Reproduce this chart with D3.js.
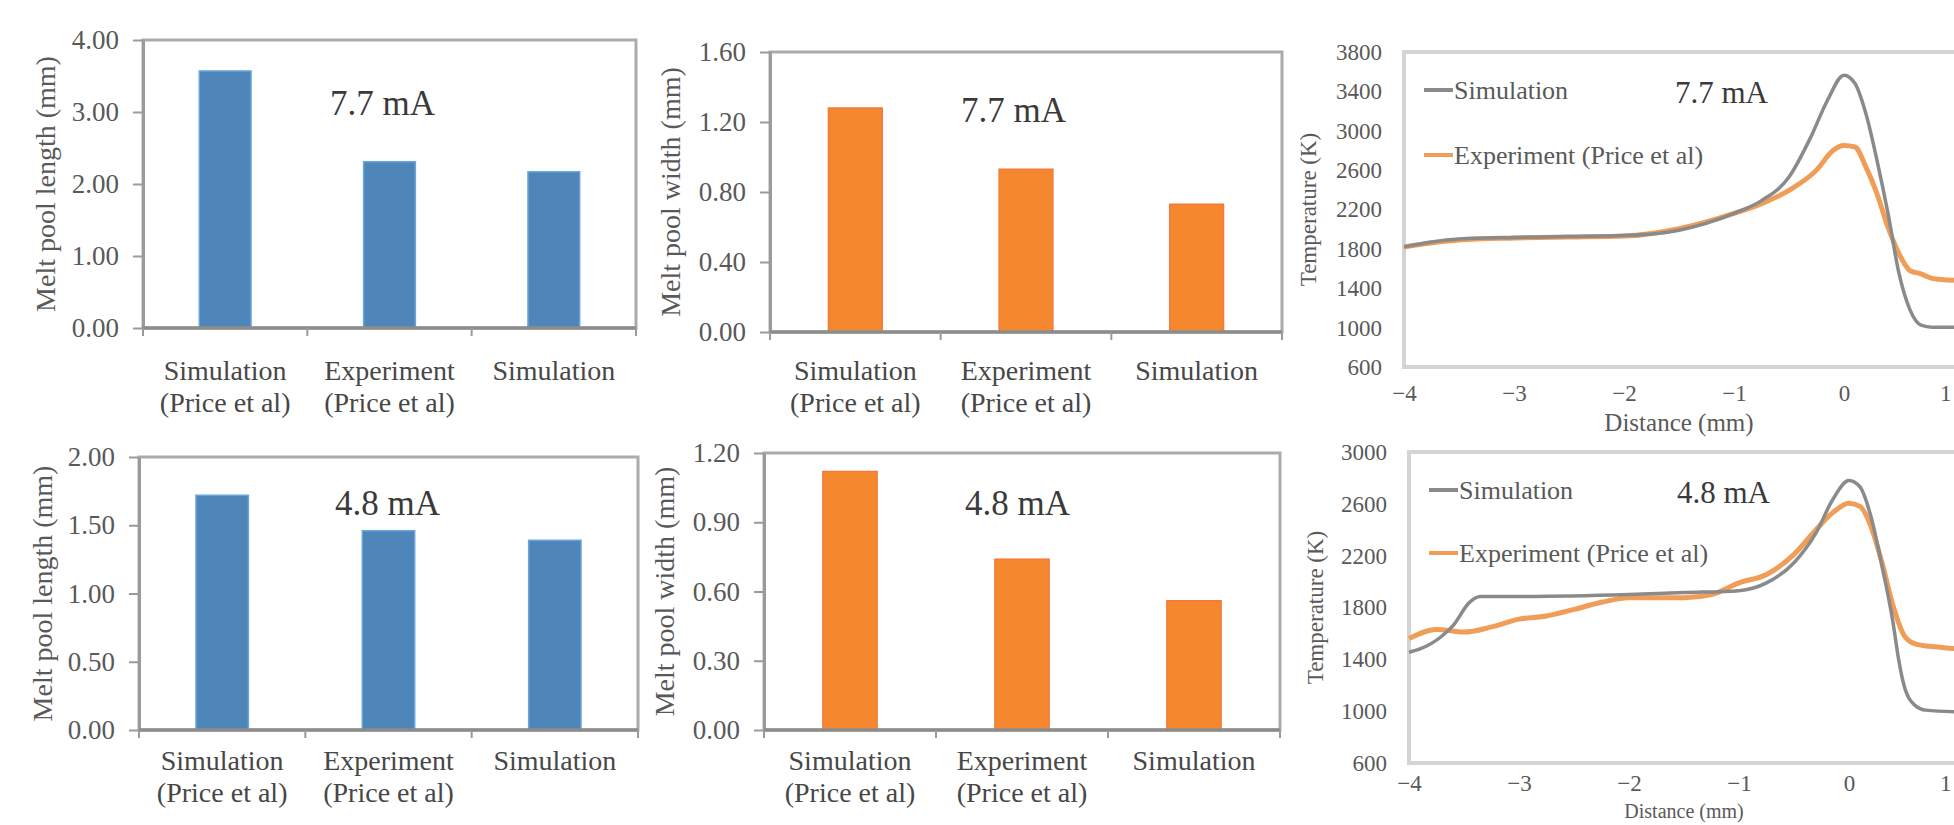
<!DOCTYPE html>
<html>
<head>
<meta charset="utf-8">
<script src="https://cdn.jsdelivr.net/npm/d3@7"></script>
<style>
  html, body { margin: 0; padding: 0; background: #fff; overflow: hidden; }
  svg { display: block; font-family: "Liberation Serif", "Times New Roman", serif; }
</style>
</head>
<body>
<svg id="chart" width="1954" height="825"></svg>
<script>
// bar chart data
var categories = [["Simulation", "(Price et al)"], ["Experiment", "(Price et al)"], ["Simulation"]];
var length77 = [3.57, 2.31, 2.17];
var width77 = [1.28, 0.93, 0.73];
var length48 = [1.72, 1.46, 1.39];
var width48 = [1.12, 0.74, 0.56];
var lengthTicks77 = [0, 1, 2, 3, 4];
var widthTicks77 = [0, 0.4, 0.8, 1.2, 1.6];
var lengthTicks48 = [0, 0.5, 1, 1.5, 2];
var widthTicks48 = [0, 0.3, 0.6, 0.9, 1.2];

// temperature profiles
var distTicks = [-4, -3, -2, -1, 0, 1];
var tempTicks77 = [600, 1000, 1400, 1800, 2200, 2600, 3000, 3400, 3800];
var tempTicks48 = [600, 1000, 1400, 1800, 2200, 2600, 3000];

var sim77Dist = [-4, -3.75, -3.5, -3, -2.5, -2, -1.5, -1, -0.75, -0.5, -0.3, -0.15, 0, 0.1, 0.2, 0.3, 0.4, 0.5, 0.6, 0.7, 0.8, 1];
var sim77Temp = [1820, 1870, 1900, 1915, 1925, 1935, 1990, 2160, 2290, 2530, 2940, 3310, 3565, 3480, 3170, 2700, 2160, 1550, 1180, 1025, 1005, 1005];
var exp77Dist = [-4, -3.5, -3, -2.5, -2, -1.5, -1, -0.75, -0.5, -0.25, -0.1, 0, 0.1, 0.2, 0.3, 0.4, 0.5, 0.6, 0.7, 0.8, 1];
var exp77Temp = [1820, 1890, 1910, 1920, 1930, 2005, 2160, 2260, 2395, 2600, 2800, 2850, 2835, 2630, 2360, 2020, 1750, 1580, 1545, 1500, 1480];

var sim48Dist = [-4, -3.9, -3.7, -3.6, -3.45, -3.35, -3, -2, -1.5, -1, -0.75, -0.5, -0.3, -0.15, 0, 0.1, 0.2, 0.3, 0.4, 0.45, 0.5, 0.6, 0.7, 1];
var sim48Temp = [1455, 1480, 1580, 1660, 1840, 1885, 1885, 1900, 1915, 1930, 1990, 2145, 2375, 2630, 2780, 2730, 2500, 2120, 1685, 1405, 1200, 1045, 1008, 995];
var exp48Dist = [-4, -3.75, -3.5, -3.25, -3, -2.75, -2.5, -2.25, -2, -1.5, -1.25, -1, -0.75, -0.5, -0.3, -0.15, 0, 0.1, 0.2, 0.3, 0.4, 0.5, 0.6, 0.8, 1];
var exp48Temp = [1560, 1630, 1610, 1650, 1710, 1735, 1785, 1840, 1875, 1875, 1900, 1990, 2055, 2210, 2400, 2530, 2605, 2580, 2425, 2145, 1815, 1585, 1520, 1495, 1480];

var W = 1954;
var svg = d3.select("#chart");

function barPanel(opt) {
    var g = svg.append("g");
    var x = d3.scaleBand()
        .domain(d3.range(categories.length))
        .range([opt.left, opt.right])
        .paddingInner(0.685)
        .paddingOuter(0.3425);
    var y = d3.scaleLinear()
        .domain([opt.ticks[0], opt.ticks[opt.ticks.length - 1]])
        .range([opt.bottom, opt.top]);

    // plot frame
    g.append("rect")
        .attr("x", opt.left).attr("y", opt.top)
        .attr("width", opt.right - opt.left).attr("height", opt.bottom - opt.top)
        .attr("fill", "none").attr("stroke", "#ababab").attr("stroke-width", 3);

    g.selectAll(".bar")
        .data(opt.values)
        .enter()
        .append("rect")
        .attr("class", "bar")
        .attr("x", function(d, i) { return x(i); })
        .attr("y", function(d) { return y(d); })
        .attr("width", x.bandwidth())
        .attr("height", function(d) { return y(0) - y(d); })
        .attr("fill", opt.color)
        .attr("stroke", opt.edge)
        .attr("stroke-width", 1.5);

    var yAxis = g.append("g")
        .attr("transform", "translate(" + opt.left + ",0)")
        .call(d3.axisLeft(y).tickValues(opt.ticks).tickFormat(d3.format(".2f")).tickSize(10).tickSizeOuter(0).tickPadding(14));
    yAxis.select(".domain").attr("stroke", "#9a9a9a").attr("stroke-width", 3);
    yAxis.selectAll(".tick line").attr("stroke", "#9a9a9a").attr("stroke-width", 2);
    yAxis.selectAll(".tick text").attr("font-size", 27).attr("fill", "#595959").attr("font-family", "Liberation Serif");

    // category separators on x axis
    var step = x.step();
    var seps = d3.range(categories.length + 1).map(function(i) { return opt.left + i * step; });
    g.append("line")
        .attr("x1", opt.left).attr("x2", opt.right)
        .attr("y1", opt.bottom).attr("y2", opt.bottom)
        .attr("stroke", "#8c8c8c").attr("stroke-width", 3.5);
    g.selectAll(".sep")
        .data(seps)
        .enter()
        .append("line")
        .attr("x1", function(d) { return d; }).attr("x2", function(d) { return d; })
        .attr("y1", opt.bottom).attr("y2", opt.bottom + 8)
        .attr("stroke", "#9a9a9a").attr("stroke-width", 2);

    var labels = g.selectAll(".cat")
        .data(categories)
        .enter()
        .append("text")
        .attr("class", "cat")
        .attr("text-anchor", "middle")
        .attr("font-size", 28)
        .attr("fill", "#474747");
    labels.selectAll("tspan")
        .data(function(d, i) { return d.map(function(s) { return { s: s, i: i }; }); })
        .enter()
        .append("tspan")
        .attr("x", function(d) { return x(d.i) + x.bandwidth() / 2; })
        .attr("y", function(d, j) { return opt.labelY + j * 32; })
        .text(function(d) { return d.s; });

    g.append("text")
        .attr("transform", "translate(" + opt.titleX + "," + (opt.top + opt.bottom) / 2 + ") rotate(-90)")
        .attr("text-anchor", "middle")
        .attr("dy", "0.35em")
        .attr("font-size", 28)
        .attr("fill", "#595959")
        .text(opt.title);

    g.append("text")
        .attr("x", opt.noteX).attr("y", opt.noteY)
        .attr("dy", "0.35em")
        .attr("font-size", 35)
        .attr("fill", "#3a3a3a")
        .text(opt.note);
}

function tempPanel(opt) {
    var g = svg.append("g");
    var x = d3.scaleLinear().domain([-4, 1]).range([opt.left, opt.left + 550]);
    var y = d3.scaleLinear()
        .domain([opt.ticks[0], opt.ticks[opt.ticks.length - 1]])
        .range([opt.bottom, opt.top]);

    g.append("rect")
        .attr("x", opt.left).attr("y", opt.top)
        .attr("width", 560).attr("height", opt.bottom - opt.top)
        .attr("fill", "none").attr("stroke", "#d4d4d4").attr("stroke-width", 4);

    var yAxis = g.append("g")
        .attr("transform", "translate(" + opt.left + ",0)")
        .call(d3.axisLeft(y).tickValues(opt.ticks).tickFormat(d3.format("d")).tickSize(0).tickPadding(22));
    yAxis.select(".domain").remove();
    yAxis.selectAll(".tick text").attr("font-size", 23).attr("fill", "#595959").attr("font-family", "Liberation Serif");

    var xAxis = g.append("g")
        .attr("transform", "translate(0," + opt.bottom + ")")
        .call(d3.axisBottom(x).tickValues(distTicks).tickFormat(d3.format("d")).tickSize(0).tickPadding(opt.xPad));
    xAxis.select(".domain").remove();
    xAxis.selectAll(".tick text").attr("font-size", 23).attr("fill", "#595959").attr("font-family", "Liberation Serif");
    // last tick sits on the page edge, keep it inside
    xAxis.selectAll(".tick text").filter(function(d) { return d === 1; })
        .attr("text-anchor", "end")
        .attr("x", (W - 3) - x(1));

    var line = d3.line()
        .x(function(d) { return x(d[0]); })
        .y(function(d) { return y(d[1]); })
        .curve(d3.curveMonotoneX);

    g.append("path")
        .datum(d3.zip(opt.expDist, opt.expTemp))
        .attr("d", line)
        .attr("fill", "none").attr("stroke", "#f09d58").attr("stroke-width", 5);
    g.append("path")
        .datum(d3.zip(opt.simDist, opt.simTemp))
        .attr("d", line)
        .attr("fill", "none").attr("stroke", "#8a8a8a").attr("stroke-width", 3.5);

    // legend
    var legend = [
        { name: "Simulation", color: "#8a8a8a", y: opt.legendY[0] },
        { name: "Experiment (Price et al)", color: "#f09d58", y: opt.legendY[1] }
    ];
    var lg = g.selectAll(".legend")
        .data(legend)
        .enter()
        .append("g");
    lg.append("line")
        .attr("x1", opt.left + 20).attr("x2", opt.left + 49)
        .attr("y1", function(d) { return d.y; }).attr("y2", function(d) { return d.y; })
        .attr("stroke", function(d) { return d.color; }).attr("stroke-width", 4);
    lg.append("text")
        .attr("x", opt.left + 50).attr("y", function(d) { return d.y; })
        .attr("dy", "0.35em")
        .attr("font-size", 26)
        .attr("fill", "#595959")
        .text(function(d) { return d.name; });

    g.append("text")
        .attr("transform", "translate(" + opt.titleX + "," + (opt.top + opt.bottom) / 2 + ") rotate(-90)")
        .attr("text-anchor", "middle")
        .attr("dy", "0.35em")
        .attr("font-size", 23)
        .attr("fill", "#595959")
        .text("Temperature (K)");

    g.append("text")
        .attr("x", opt.left + 275).attr("y", opt.xTitleY)
        .attr("text-anchor", "middle")
        .attr("dy", "0.35em")
        .attr("font-size", opt.xTitleSize)
        .attr("fill", "#595959")
        .text("Distance (mm)");

    g.append("text")
        .attr("x", opt.noteX).attr("y", opt.noteY)
        .attr("dy", "0.35em")
        .attr("font-size", 31)
        .attr("fill", "#3a3a3a")
        .text(opt.note);
}

barPanel({ left: 143, right: 636, top: 40, bottom: 328, values: length77, ticks: lengthTicks77,
    color: "#4f86b9", edge: "#6aa6dc", title: "Melt pool length (mm)", titleX: 45,
    labelY: 380, note: "7.7 mA", noteX: 330, noteY: 103 });
barPanel({ left: 770, right: 1282, top: 52, bottom: 332, values: width77, ticks: widthTicks77,
    color: "#f5872e", edge: "#f47a3a", title: "Melt pool width (mm)", titleX: 670,
    labelY: 380, note: "7.7 mA", noteX: 961, noteY: 110 });
barPanel({ left: 139, right: 638, top: 457, bottom: 730, values: length48, ticks: lengthTicks48,
    color: "#4f86b9", edge: "#6aa6dc", title: "Melt pool length (mm)", titleX: 42,
    labelY: 770, note: "4.8 mA", noteX: 335, noteY: 503 });
barPanel({ left: 764, right: 1280, top: 453, bottom: 730, values: width48, ticks: widthTicks48,
    color: "#f5872e", edge: "#f47a3a", title: "Melt pool width (mm)", titleX: 664,
    labelY: 770, note: "4.8 mA", noteX: 965, noteY: 503 });

tempPanel({ left: 1404, top: 52, bottom: 367, ticks: tempTicks77,
    simDist: sim77Dist, simTemp: sim77Temp, expDist: exp77Dist, expTemp: exp77Temp,
    legendY: [90, 155], titleX: 1308, xPad: 18, xTitleY: 422, xTitleSize: 25, note: "7.7 mA", noteX: 1675, noteY: 92 });
tempPanel({ left: 1409, top: 452, bottom: 763, ticks: tempTicks48,
    simDist: sim48Dist, simTemp: sim48Temp, expDist: exp48Dist, expTemp: exp48Temp,
    legendY: [490, 553], titleX: 1315, xPad: 12, xTitleY: 811, xTitleSize: 20, note: "4.8 mA", noteX: 1677, noteY: 492 });
</script>
</body>
</html>
